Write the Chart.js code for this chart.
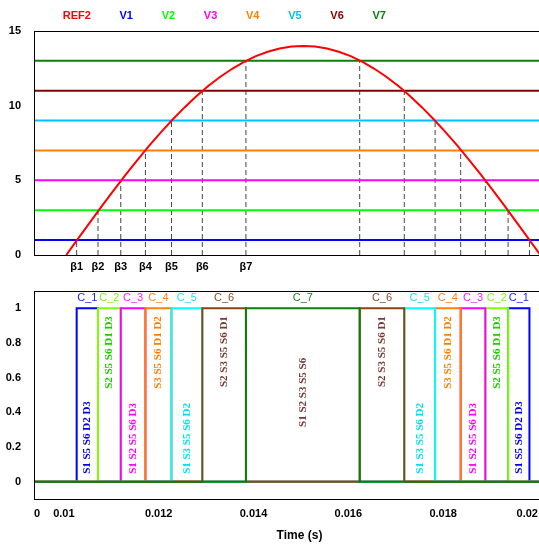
<!DOCTYPE html>
<html>
<head>
<meta charset="utf-8">
<script src="https://cdn.jsdelivr.net/npm/chart.js@4/dist/chart.umd.min.js"></script>
<style>
  html, body { margin: 0; padding: 0; overflow: hidden; background: #fff; width: 539px; height: 545px; }
  canvas { display: block; }
</style>
</head>
<body>
<canvas id="levels" width="565" height="280"></canvas>
<canvas id="states" width="565" height="265"></canvas>
<script>
// ---- data ----
// Reference REF2 over one half-period: time (s) and value
const refTime = [0.01005, 0.0103, 0.01055, 0.0108, 0.01105, 0.0113, 0.01155, 0.0118, 0.01205, 0.0123,
  0.01255, 0.0128, 0.01305, 0.0133, 0.01355, 0.0138, 0.01405, 0.0143, 0.01455, 0.0148,
  0.01505, 0.0153, 0.01555, 0.0158, 0.01605, 0.0163, 0.01655, 0.0168, 0.01705, 0.0173,
  0.01755, 0.0178, 0.01805, 0.0183, 0.01855, 0.0188, 0.01905, 0.0193, 0.01955, 0.0198, 0.02005];
const refValue = [0, 1.10, 2.19, 3.27, 4.33, 5.36, 6.36, 7.32, 8.23, 9.09,
  9.90, 10.65, 11.33, 11.94, 12.47, 12.93, 13.32, 13.61, 13.83, 13.96,
  14.00, 13.96, 13.83, 13.61, 13.32, 12.93, 12.47, 11.94, 11.33, 10.65,
  9.90, 9.09, 8.23, 7.32, 6.36, 5.36, 4.33, 3.27, 2.19, 1.10, 0];

// Constant levels V1..V7
const levelNames = ['V1', 'V2', 'V3', 'V4', 'V5', 'V6', 'V7'];
const levelValues = [1, 3, 5, 7, 9, 11, 13];

// Instants where REF2 crosses each level (rising side, falling side)
const riseTimes = [0.01027, 0.01072, 0.01120, 0.01172, 0.01227, 0.01292, 0.01384];
const fallTimes = [0.01982, 0.01937, 0.01889, 0.01837, 0.01783, 0.01718, 0.01624];
const betaLabels = ['β1', 'β2', 'β3', 'β4', 'β5', 'β6', 'β7'];

// Switching states and their conducting devices
const stateNames = ['C_1', 'C_2', 'C_3', 'C_4', 'C_5', 'C_6', 'C_7'];
const stateDevices = ['S1 S5 S6 D2 D3', 'S2 S5 S6 D1 D3', 'S1 S2 S5 S6 D3', 'S3 S5 S6 D1 D2',
  'S1 S3 S5 S6 D2', 'S2 S3 S5 S6 D1', 'S1 S2 S3 S5 S6'];

// Axes
const timeMin = 0.00937, timeMax = 0.02057;
const timeTickValues = [0.00937, 0.01, 0.012, 0.014, 0.016, 0.018, 0.02];
const timeTickLabels = ['0', '0.01', '0.012', '0.014', '0.016', '0.018', '0.02'];
const levelTicks = [0, 5, 10, 15];
const stateTickValues = [0, 0.2, 0.4, 0.6, 0.8, 1];
const stateTickLabels = ['0', '0.2', '0.4', '0.6', '0.8', '1'];

// ---- styles ----
const refColor = '#ff0000';
const levelColors = ['#0000ff', '#00ff00', '#ff00ff', '#ff8000', '#00bfff', '#800000', '#0a7f0a'];
const stateColors = ['#0000ff', '#80ff00', '#ff00ff', '#ff8000', '#00ffff', '#8b4513', '#0a800a'];
const stateNameColors = ['#2020ff', '#80f020', '#ff20ff', '#ff8020', '#20e0ff', '#8b4a20', '#208020'];
const stateTextColors = ['#0000e0', '#20cc00', '#ff00ff', '#ff8000', '#00e0f0', '#7a3b2e', '#7a3535'];
const SANS = "'Liberation Sans', Arial, sans-serif";
const SERIF = "'Liberation Serif', 'Times New Roman', serif";

Chart.defaults.font.family = SANS;
Chart.defaults.color = '#000';

const framePlugin = {
  id: 'frame',
  afterDatasetsDraw(chart) {
    const { ctx, chartArea: a } = chart;
    ctx.save();
    ctx.strokeStyle = '#000';
    ctx.lineWidth = 1;
    ctx.strokeRect(Math.floor(a.left) + 0.5, Math.floor(a.top) + 0.5, a.right - a.left, a.bottom - a.top);
    ctx.restore();
  }
};

const boldTicks = { size: 11, weight: 'bold' };

// fixed axis boxes so both panels share the same plot edges
const fixWidth = (w) => (s) => { s.width = w; s.paddingTop = 0; s.paddingBottom = 0; };
const fixHeight = (h) => (s) => { s.height = h; s.paddingLeft = 0; s.paddingRight = 0; };

// ---- upper chart: REF2 against the levels ----
const levelDatasets = [{
  label: 'REF2',
  data: refTime.map((t, i) => ({ x: t, y: refValue[i] })),
  borderColor: refColor, borderWidth: 2, pointRadius: 0, tension: 0, order: 0
}];
levelValues.forEach((v, i) => {
  levelDatasets.push({
    label: levelNames[i],
    data: [{ x: timeMin, y: v }, { x: timeMax, y: v }],
    borderColor: levelColors[i], borderWidth: 2, pointRadius: 0, order: 1
  });
});
levelValues.forEach((v, i) => {
  [riseTimes[i], fallTimes[i]].forEach(t => {
    levelDatasets.push({
      label: '',
      data: [{ x: t, y: 0 }, { x: t, y: v }],
      borderColor: '#454545', borderWidth: 1, borderDash: [5, 3], pointRadius: 0, order: 2
    });
  });
});

new Chart(document.getElementById('levels'), {
  type: 'line',
  data: { datasets: levelDatasets },
  options: {
    responsive: false, animation: false, devicePixelRatio: 1,
    layout: { padding: { top: 6, left: 0, right: 0, bottom: 0 } },
    plugins: {
      tooltip: { enabled: false },
      legend: {
        display: true, position: 'top', align: 'start', fullSize: false,
        labels: {
          boxWidth: 19.2, boxHeight: 0, padding: 4,
          font: { size: 11, weight: 'bold' },
          generateLabels: (chart) => chart.data.datasets
            .map((ds, i) => ({
              text: ds.label, fontColor: ds.borderColor,
              fillStyle: 'rgba(0,0,0,0)', strokeStyle: 'rgba(0,0,0,0)', lineWidth: 0,
              hidden: false, datasetIndex: i
            }))
            .filter(item => item.text !== '')
        }
      }
    },
    scales: {
      x: {
        type: 'linear', min: timeMin, max: timeMax,
        grid: { display: false, drawTicks: false },
        border: { display: false },
        afterBuildTicks: (s) => { s.ticks = riseTimes.map(v => ({ value: v })); },
        afterFit: fixHeight(25),
        ticks: {
          autoSkip: false, maxRotation: 0, padding: 5, font: boldTicks,
          callback: (v, i) => betaLabels[i]
        }
      },
      y: {
        min: 0, max: 15,
        grid: { display: false, drawTicks: false },
        border: { display: false },
        afterBuildTicks: (s) => { s.ticks = levelTicks.map(v => ({ value: v })); },
        afterFit: fixWidth(34),
        ticks: { padding: 13, font: boldTicks, callback: (v) => String(v) }
      }
    }
  },
  plugins: [framePlugin]
});

// ---- lower chart: switching state pulses ----
function stateIntervals(k) {
  if (k === levelValues.length - 1) return [[riseTimes[k], fallTimes[k]]];
  return [[riseTimes[k], riseTimes[k + 1]], [fallTimes[k + 1], fallTimes[k]]];
}

const stateDatasets = stateNames.map((name, k) => {
  const pts = [{ x: timeMin, y: 0 }];
  stateIntervals(k)
    .slice().sort((a, b) => a[0] - b[0])
    .forEach(([a, b]) => { pts.push({ x: a, y: 1 }); pts.push({ x: b, y: 0 }); });
  pts.push({ x: timeMax, y: 0 });
  return {
    label: name, data: pts, stepped: true,
    borderColor: stateColors[k], borderWidth: 2, pointRadius: 0,
    order: stateNames.length - k
  };
});

const stateLabelPlugin = {
  id: 'stateLabels',
  afterDatasetsDraw(chart) {
    const { ctx, scales: { x, y } } = chart;
    const last = stateNames.length - 1;
    ctx.save();
    stateNames.forEach((name, k) => {
      stateIntervals(k).forEach(([a, b]) => {
        const cx = x.getPixelForValue((a + b) / 2);
        // state name above the pulse
        ctx.font = '11px ' + SANS;
        ctx.fillStyle = stateNameColors[k];
        ctx.textAlign = 'center';
        ctx.textBaseline = 'middle';
        ctx.fillText(name, cx, y.getPixelForValue(1.058));
        // conducting devices, written upwards inside the pulse
        ctx.save();
        ctx.font = 'bold 11px ' + SERIF;
        ctx.fillStyle = stateTextColors[k];
        ctx.textBaseline = 'middle';
        let anchor;
        if (k === last) { anchor = 0.515; ctx.textAlign = 'center'; }
        else if (k % 2 === 0) { anchor = 0.045; ctx.textAlign = 'left'; }
        else { anchor = 0.955; ctx.textAlign = 'right'; }
        ctx.translate(cx, y.getPixelForValue(anchor));
        ctx.rotate(-Math.PI / 2);
        ctx.fillText(stateDevices[k], 0, 0);
        ctx.restore();
      });
    });
    ctx.restore();
  }
};

new Chart(document.getElementById('states'), {
  type: 'line',
  data: { datasets: stateDatasets },
  options: {
    responsive: false, animation: false, devicePixelRatio: 1,
    layout: { padding: { top: 11, left: 0, right: 0, bottom: 0 } },
    plugins: { legend: { display: false }, tooltip: { enabled: false } },
    scales: {
      x: {
        type: 'linear', min: timeMin, max: timeMax,
        grid: { display: false, drawTicks: false },
        border: { display: false },
        afterBuildTicks: (s) => { s.ticks = timeTickValues.map(v => ({ value: v })); },
        afterFit: fixHeight(46),
        ticks: {
          autoSkip: false, maxRotation: 0, padding: 8, align: 'inner', font: boldTicks,
          callback: (v, i) => timeTickLabels[i]
        },
        title: {
          display: true, text: 'Time (s)',
          font: { size: 12, weight: 'bold' }, padding: { top: 0, bottom: 2 }
        }
      },
      y: {
        min: -0.1, max: 1.1,
        grid: { display: false, drawTicks: false },
        border: { display: false },
        afterBuildTicks: (s) => { s.ticks = stateTickValues.map(v => ({ value: v })); },
        afterFit: fixWidth(34),
        ticks: { padding: 13, font: boldTicks, callback: (v, i) => stateTickLabels[i] }
      }
    }
  },
  plugins: [framePlugin, stateLabelPlugin]
});
</script>
</body>
</html>
